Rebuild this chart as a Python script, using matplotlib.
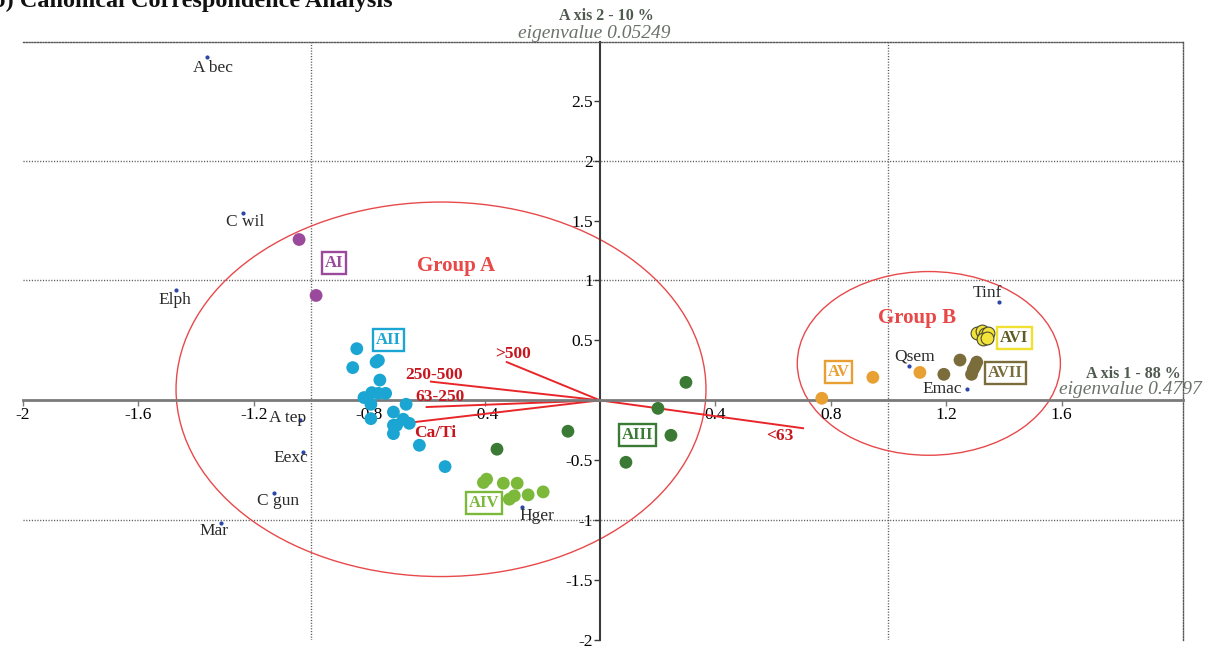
import matplotlib
matplotlib.use("Agg")
import matplotlib.pyplot as plt
from matplotlib.patches import Ellipse

plt.rcParams['font.family'] = ['Liberation Serif', 'DejaVu Serif']

# species scores (small blue dots)
species = ["A bec", "C wil", "Elph", "A tep", "Eexc", "C gun", "Mar", "Hger", "Tinf", "Qsem", "Emac"]
sp_x = [-1.362, -1.237, -1.470, -1.040, -1.030, -1.130, -1.314, -0.270, 1.383, 1.071, 1.272]
sp_y = [2.867, 1.567, 0.917, -0.167, -0.433, -0.775, -1.025, -0.892, 0.817, 0.283, 0.092]

# sample scores by group
groups = ["AI", "AII", "AIII", "AIV", "AV", "AVI", "AVII"]
AI_x = [-1.043, -0.984]
AI_y = [1.342, 0.875]
AII_x = [-0.843, -0.857, -0.776, -0.768, -0.763, -0.818, -0.791, -0.768, -0.743, -0.794,
         -0.794, -0.716, -0.672, -0.716, -0.705, -0.682, -0.661, -0.716, -0.626, -0.537]
AII_y = [0.431, 0.273, 0.319, 0.333, 0.169, 0.023, 0.064, 0.058, 0.058, -0.033,
         -0.153, -0.098, -0.033, -0.208, -0.208, -0.158, -0.192, -0.278, -0.375, -0.553]
AIII_x = [0.298, 0.201, 0.246, 0.090, -0.111, -0.357]
AIII_y = [0.150, -0.067, -0.292, -0.517, -0.258, -0.408]
AIV_x = [-0.404, -0.393, -0.335, -0.287, -0.314, -0.297, -0.249, -0.197]
AIV_y = [-0.686, -0.658, -0.692, -0.692, -0.825, -0.797, -0.789, -0.764]
AV_x = [0.769, 0.946, 1.109]
AV_y = [0.017, 0.192, 0.233]
AVI_x = [1.306, 1.323, 1.334, 1.346, 1.329, 1.340]
AVI_y = [0.564, 0.578, 0.550, 0.564, 0.508, 0.522]
AVII_x = [1.192, 1.248, 1.306, 1.294, 1.288, 1.300]
AVII_y = [0.217, 0.336, 0.319, 0.258, 0.217, 0.286]
group_x = [AI_x, AII_x, AIII_x, AIV_x, AV_x, AVI_x, AVII_x]
group_y = [AI_y, AII_y, AIII_y, AIV_y, AV_y, AVI_y, AVII_y]
label_x = [-0.922, -0.733, 0.130, -0.402, 0.827, 1.437, 1.406]
label_y = [1.150, 0.500, -0.288, -0.854, 0.238, 0.517, 0.229]

# environmental vectors
env = [">500", "250-500", "63-250", "Ca/Ti", "<63"]
env_x = [-0.323, -0.586, -0.601, -0.641, 0.704]
env_y = [0.319, 0.156, -0.056, -0.181, -0.233]
env_lx = [-0.302, -0.574, -0.555, -0.572, 0.624]
env_ly = [0.383, 0.208, 0.025, -0.271, -0.300]

x_ticks = [-2, -1.6, -1.2, -0.8, -0.4, 0.4, 0.8, 1.2, 1.6]
y_ticks = [-2, -1.5, -1, -0.5, 0.5, 1, 1.5, 2, 2.5]

# styles
fill_cols = ["#9b4a9b", "#1aa5d3", "#3b7a34", "#7cb83a", "#e9a033", "#f2e33a", "#7b6c3c"]
edge_cols = ["none", "none", "none", "none", "none", "#4a4a30", "none"]
box_cols = ["#9b4a9b", "#1aa5d3", "#3b7a34", "#7cb83a", "#e9a033", "#f0e030", "#7b6c3c"]
txt_cols = ["#9b4a9b", "#1aa5d3", "#3b7a34", "#7cb83a", "#e9a033", "#5e5c22", "#7b6c3c"]
sp_off = [(4, -8), (1.5, -6.5), (-0.7, -7.2), (-8.6, 1.4), (-8.6, -4.3), (2.9, -5.8),
          (-5, -5.8), (10.8, -6.5), (-8.6, 6.5), (4.3, 7.2), (-18, 0)]

W, H = 1209, 647
fig = plt.figure(figsize=(W / 100, H / 100), dpi=100)
ax = fig.add_axes([23 / W, 7 / H, 1160 / W, 598 / H])
ax.set_xlim(-2, 2.021)
ax.set_ylim(-2, 2.99)

# frame and grid
dots = (0, (0.8, 1.2))
for s in ["top", "right"]:
    ax.spines[s].set_linestyle(dots)
    ax.spines[s].set_color("#555555")
    ax.spines[s].set_linewidth(1)
ax.spines["left"].set_position(("data", 0))
ax.spines["bottom"].set_position(("data", 0))
ax.spines["left"].set_color("#3a3a3a")
ax.spines["left"].set_linewidth(1.5)
ax.spines["bottom"].set_color("#7a7a7a")
ax.spines["bottom"].set_linewidth(2)
for yv in [2, 1, -1]:
    ax.axhline(yv, color="#555555", lw=1, ls=dots, zorder=0)
for xv in [-1, 1]:
    ax.axvline(xv, color="#555555", lw=1, ls=dots, zorder=0)

ax.set_xticks(x_ticks)
ax.set_xticklabels([f"{v:g}" for v in x_ticks])
ax.set_yticks(y_ticks)
ax.set_yticklabels([f"{v:g}" for v in y_ticks])
ax.tick_params(axis="x", length=4, width=1, color="#7a7a7a", pad=1, labelsize=12.5)
ax.tick_params(axis="y", length=4, width=1, color="#3a3a3a", pad=1, labelsize=12.5)

# group ellipses
ax.add_patch(Ellipse((-0.551, 0.092), 1.837, 3.125, fill=False, ec="#e8494b", lw=1, zorder=1))
ax.add_patch(Ellipse((1.140, 0.308), 0.912, 1.533, fill=False, ec="#e8494b", lw=1, zorder=1))
ax.text(-0.499, 1.117, "Group A", color="#e84848", fontsize=15, fontweight="bold",
        ha="center", va="center")
ax.text(1.099, 0.683, "Group B", color="#e84848", fontsize=15, fontweight="bold",
        ha="center", va="center")

# vectors
for i in range(len(env)):
    ax.plot([0, env_x[i]], [0, env_y[i]], color="#e8262a", lw=1.4, zorder=2)
    ax.text(env_lx[i], env_ly[i], env[i], color="#c8161e", fontsize=12.5, fontweight="bold",
            ha="center", va="center", zorder=5)

# samples
for i in range(len(groups)):
    ax.scatter(group_x[i], group_y[i], s=85, color=fill_cols[i], edgecolors=edge_cols[i],
               linewidths=0.8, zorder=4)
    ax.text(label_x[i], label_y[i], groups[i], color=txt_cols[i], fontsize=12, fontweight="bold",
            ha="center", va="center", zorder=6,
            bbox=dict(boxstyle="square,pad=0.18", fc="white", ec=box_cols[i], lw=1.7))

# species
ax.scatter(sp_x, sp_y, s=4, color="#2a46a8", zorder=5)
for i in range(len(species)):
    ax.annotate(species[i], (sp_x[i], sp_y[i]), xytext=sp_off[i], textcoords="offset points",
                ha="center", va="center", fontsize=12.5, color="#2a2a2a", zorder=5)

# axis titles and heading
def fx(px):
    return px / W

def fy(py):
    return 1 - py / H

grey = "#4f5a4f"
fig.text(fx(606), fy(16), "A xis 2 - 10 %", color=grey, fontsize=11.5, fontweight="bold",
         ha="center", va="center")
fig.text(fx(594), fy(33), "eigenvalue 0.05249", color="#6a726a", fontsize=14, style="italic",
         ha="center", va="center")
fig.text(fx(1133), fy(374), "A xis 1 - 88 %", color=grey, fontsize=11.5, fontweight="bold",
         ha="center", va="center")
fig.text(fx(1130), fy(390), "eigenvalue 0.4797", color="#6a726a", fontsize=14, style="italic",
         ha="center", va="center")
fig.text(fx(393), fy(7), "b) Canonical Correspondence Analysis", color="#111111", fontsize=17.5,
         fontweight="bold", ha="right", va="baseline")

fig.savefig("out.png", dpi=100)
